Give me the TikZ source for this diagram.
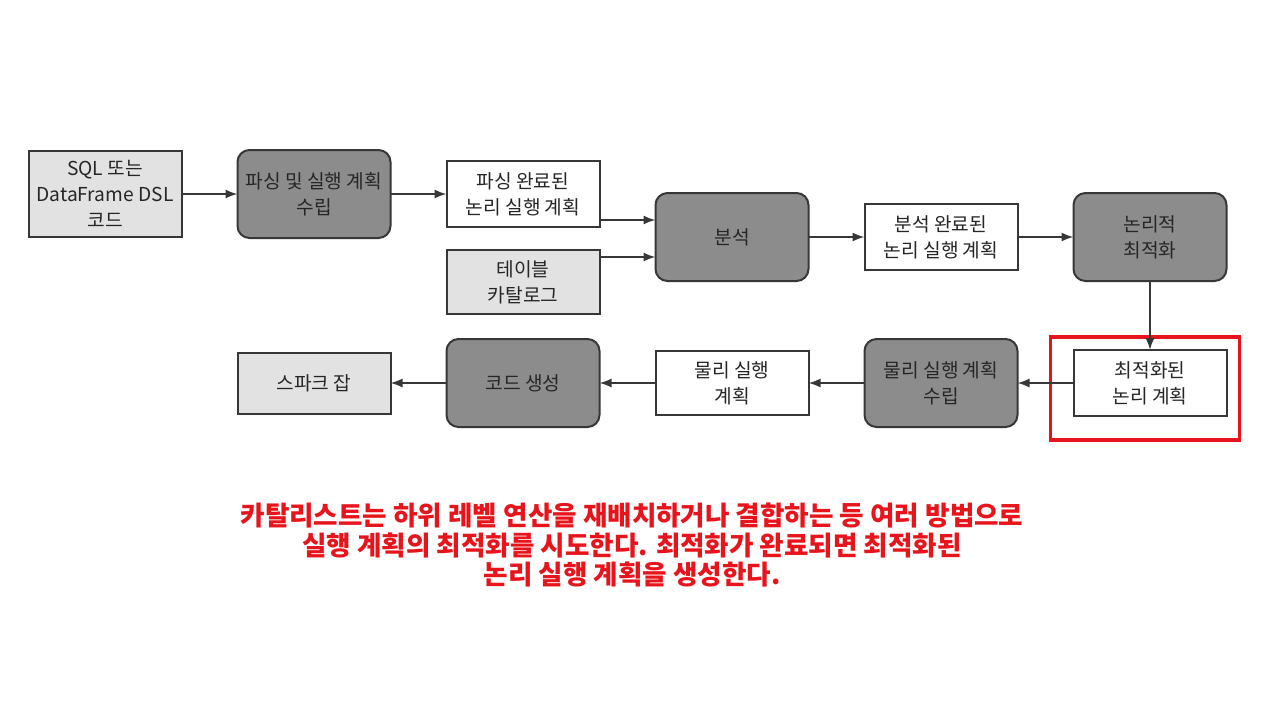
\documentclass[tikz,border=0pt]{standalone}
\usepackage{fontspec}
\setmainfont{Noto Sans CJK KR}
\usetikzlibrary{positioning, arrows.meta}

\definecolor{procgray}{RGB}{140,140,140}
\definecolor{srcgray}{RGB}{226,226,226}
\definecolor{edgegray}{RGB}{55,55,55}
\definecolor{notered}{RGB}{232,20,28}

\begin{document}
\begin{tikzpicture}[
    x=0.5pt, y=-0.5pt,
    node distance=11.5pt and 28pt, % Vertical and horizontal node distances
    box/.style={draw=edgegray, line width=1pt, minimum width=76.5pt, outer sep=0pt,
                align=center, text=black!85, font=\fontsize{9.6}{13}\selectfont},
    src/.style={box, fill=srcgray, minimum height=43pt}, % Inputs and outputs
    proc/.style={box, fill=procgray, rounded corners=6pt, minimum height=44pt}, % Stages
    plan/.style={box, fill=white, minimum height=33pt}, % Intermediate plans
    arr/.style={draw=edgegray, line width=0.9pt, -{Latex[length=6pt,width=4.5pt]}},
    hilite/.style={draw=notered, line width=1.6pt}
  ]
    \useasboundingbox[fill=white] (0,0) rectangle (1280,720);

    % Define nodes
    \node[src] (Src) at (105,194)                      {SQL 또는\\DataFrame DSL\\코드};
    \node[proc] (Parse) [right=of Src]                 {파싱 및 실행 계획\\수립};
    \node[plan] (Parsed) [right=of Parse]              {파싱 완료된\\논리 실행 계획};
    \node[src, minimum height=32pt] (Catalog) [below=of Parsed] {테이블\\카탈로그};
    \node[proc] (Analysis) [right=of Parsed, yshift=-21.5pt] {분석};
    \node[plan] (Analyzed) [right=of Analysis]         {분석 완료된\\논리 실행 계획};
    \node[proc] (LogOpt) [right=of Analyzed]           {논리적\\최적화};
    \node[plan] (OptPlan) [below=34.5pt of LogOpt]     {최적화된\\논리 계획};
    \node[proc] (PhysBuild) [left=of OptPlan]          {물리 실행 계획\\수립};
    \node[plan, minimum height=32pt] (Physical) [left=of PhysBuild] {물리 실행\\계획};
    \node[proc] (CodeGen) [left=of Physical]           {코드 생성};
    \node[src, minimum height=30.5pt] (Job) [left=of CodeGen] {스파크 잡};

    % Highlight around the optimized plan
    \draw[hilite] ([xshift=-11.5pt,yshift=6.5pt]OptPlan.north west)
        rectangle ([xshift=6.5pt,yshift=-12pt]OptPlan.south east);

    % Draw arrows
    \draw[arr] (Src) -- (Parse);
    \draw[arr] (Parse) -- (Parsed);
    \draw[arr] ([yshift=-13pt]Parsed.east) -- ([yshift=-13pt]Parsed.east -| Analysis.west);
    \draw[arr] ([yshift=12.5pt]Catalog.east) -- ([yshift=12.5pt]Catalog.east -| Analysis.west);
    \draw[arr] (Analysis) -- (Analyzed);
    \draw[arr] (Analyzed) -- (LogOpt);
    \draw[arr] (LogOpt) -- (OptPlan); % Vertical arrow
    \draw[arr] (OptPlan) -- (PhysBuild);
    \draw[arr] (PhysBuild) -- (Physical);
    \draw[arr] (Physical) -- (CodeGen);
    \draw[arr] (CodeGen) -- (Job);

    % Caption
    \node (Note) at (632,545) [align=center, text=notered,
        font=\fontsize{13.3}{14.7}\selectfont\bfseries]
        {카탈리스트는 하위 레벨 연산을 재배치하거나 결합하는 등 여러 방법으로\\
         실행 계획의 최적화를 시도한다. 최적화가 완료되면 최적화된\\
         논리 실행 계획을 생성한다.};
\end{tikzpicture}
\end{document}
